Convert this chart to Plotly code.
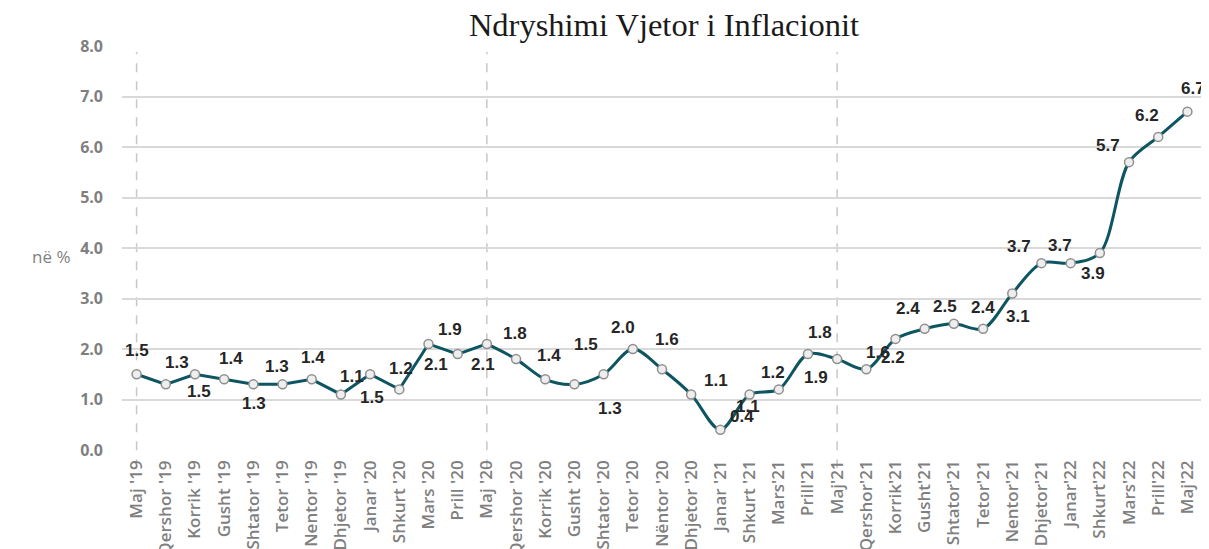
import plotly.graph_objects as go

months = ["Maj '19", "Qershor '19", "Korrik '19", "Gusht '19", "Shtator '19", "Tetor '19",
          "Nentor '19", "Dhjetor '19", "Janar '20", "Shkurt '20", "Mars '20", "Prill '20",
          "Maj '20", "Qershor '20", "Korrik '20", "Gusht '20", "Shtator '20", "Tetor '20",
          "Nëntor '20", "Dhjetor '20", "Janar '21", "Shkurt '21", "Mars'21", "Prill'21",
          "Maj'21", "Qershor'21", "Korrik'21", "Gusht'21", "Shtator'21", "Tetor'21",
          "Nentor'21", "Dhjetor'21", "Janar'22", "Shkurt'22", "Mars'22", "Prill'22", "Maj'22"]

inflation = [1.5, 1.3, 1.5, 1.4, 1.3, 1.3, 1.4, 1.1, 1.5, 1.2, 2.1, 1.9,
             2.1, 1.8, 1.4, 1.3, 1.5, 2.0, 1.6, 1.1, 0.4, 1.1, 1.2, 1.9,
             1.8, 1.6, 2.2, 2.4, 2.5, 2.4, 3.1, 3.7, 3.7, 3.9, 5.7, 6.2, 6.7]

y_ticks = [0, 1, 2, 3, 4, 5, 6, 7, 8]
year_marks = ["Maj '19", "Maj '20", "Maj'21"]

# label offsets in pixels (dx, dy) relative to each point, screen coords (dy positive = down)
label_offsets = [(0, -24), (11, -22), (4, 17), (7, -21), (1, 19), (-6, -18), (1, -22), (11, -18),
                 (2, 23), (2, -21), (8, 21), (-8, -25), (-4, 21), (-1, -26), (4, -24), (36, 24),
                 (-18, -30), (-10, -22), (5, -30), (25, -14), (22, -13), (-2, 12), (-6, -17),
                 (8, 23), (-17, -27), (12, -17), (-3, 19), (-17, -20), (-9, -17), (0, -21),
                 (6, 23), (-22, -17), (-11, -18), (-7, 20), (-21, -17), (-11, -21), (6, -23)]

LINE = "#0c5561"
GREY = "#7f7f7f"

fig = go.Figure()
split = 12
fig.add_trace(go.Scatter(x=months[:split + 1], y=inflation[:split + 1], mode="lines",
                         line=dict(color=LINE, width=3), hoverinfo="skip", showlegend=False))
fig.add_trace(go.Scatter(x=months[split:], y=inflation[split:], mode="lines",
                         line=dict(color=LINE, width=3, shape="spline", smoothing=0.9),
                         hoverinfo="skip", showlegend=False))
fig.add_trace(go.Scatter(x=months, y=inflation, mode="markers",
                         marker=dict(size=9, color="#eeeeee", line=dict(color="#8f8f8f", width=1.5)),
                         showlegend=False))

for m, v, (dx, dy) in zip(months, inflation, label_offsets):
    fig.add_annotation(x=m, y=v, text=f"<b>{v:.1f}</b>", showarrow=False,
                       xshift=dx, yshift=-dy,
                       font=dict(family="Liberation Sans, Arial", size=17, color="#262626"))

for m in year_marks:
    fig.add_shape(type="line", x0=m, x1=m, xref="x", yref="paper", y0=-0.045, y1=0.985,
                  line=dict(color="#c8c8c8", width=1.5, dash="dash"), layer="below")

fig.add_annotation(text="në %", xref="paper", yref="paper", x=-0.0657, y=0.478,
                   xanchor="center", yanchor="middle",
                   showarrow=False, font=dict(family="Open Sans", size=17, color=GREY))

fig.update_layout(
    width=1209, height=549,
    margin=dict(l=114, r=15, t=38, b=107),
    paper_bgcolor="white", plot_bgcolor="white",
    title=dict(text="Ndryshimi Vjetor i Inflacionit", x=0.5426, xanchor="center", y=0.969,
               yanchor="middle",
               font=dict(family="Liberation Serif, DejaVu Serif", size=32.5, color="#1a1a1a")),
    xaxis=dict(type="category", categoryorder="array", categoryarray=months,
               tickmode="array", tickvals=months, ticktext=months, automargin=False,
               tickangle=-90, tickfont=dict(family="Open Sans", size=17, color=GREY, weight=600),
               showgrid=False, zeroline=False, showline=False, ticks="",
               ticklabelstandoff=6, range=[-0.5, len(months) - 0.5]),
    yaxis=dict(range=[0, 8], tickvals=y_ticks, ticktext=[f"{t:.1f}" for t in y_ticks],
               tickfont=dict(family="Open Sans", size=16, color=GREY, weight=700),
               automargin=False,
               showgrid=True, gridcolor="#d9d9d9", gridwidth=1.5, zeroline=False,
               showline=False, ticks="", ticklabelstandoff=18),
)

fig.write_html("out.html")
